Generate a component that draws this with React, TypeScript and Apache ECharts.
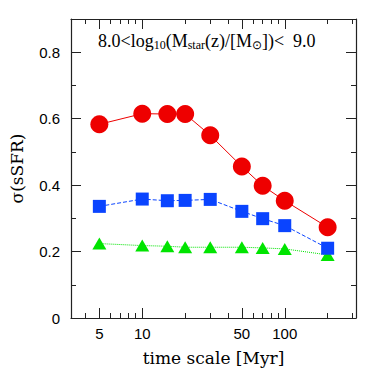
import React, { useEffect, useRef } from "react";
import * as echarts from "echarts";

const timeScale = [5, 10, 15, 20, 30, 50, 70, 100, 200];
const sigmaCircles = [0.583, 0.615, 0.614, 0.614, 0.55, 0.456, 0.398, 0.353, 0.273];
const sigmaSquares = [0.336, 0.358, 0.353, 0.354, 0.357, 0.321, 0.299, 0.278, 0.21];
const sigmaTriangles = [0.224, 0.218, 0.216, 0.213, 0.213, 0.213, 0.211, 0.208, 0.19];

const xMajorTicks = [5, 10, 50, 100];
const xMinorTicks = [4, 6, 7, 8, 9, 20, 30, 40, 60, 70, 80, 90, 200, 300];
const yMajorTicks = [0, 0.2, 0.4, 0.6, 0.8];
const yMinorTicks = [0.1, 0.3, 0.5, 0.7];

const X_MIN = 0.5; // log10 of lower bound
const X_MAX = 2.5; // log10 of upper bound
const Y_MIN = 0;
const Y_MAX = 0.9;

const lg = (v: number) => Math.log10(v);

export default function App() {
  const ref = useRef<HTMLDivElement>(null);
  useEffect(() => {
    if (!ref.current) return;
    const chart = echarts.init(ref.current, undefined, { renderer: "svg" });
    const axisColor = "#222";
    const numFont = "Liberation Sans";
    const wordFont = "DejaVu Serif";

    const mkX = (pos: "bottom" | "top", ticks: number[], len: number, labels: boolean, line: boolean) => ({
      type: "value",
      position: pos,
      min: X_MIN,
      max: X_MAX,
      axisLine: { show: line, onZero: false, lineStyle: { color: axisColor, width: 1.2 } },
      axisTick: { show: true, inside: true, length: len, customValues: ticks.map(lg), lineStyle: { color: axisColor, width: 1 } },
      axisLabel: labels
        ? {
            show: true,
            customValues: ticks.map(lg),
            formatter: (v: number) => String(Math.round(Math.pow(10, v))),
            color: "#000",
            fontFamily: numFont,
            fontSize: 15,
            margin: 8,
          }
        : { show: false },
      splitLine: { show: false },
      name: labels && pos === "bottom" ? "time scale [Myr]" : "",
      nameLocation: "middle",
      nameGap: 31,
      nameTextStyle: { fontFamily: wordFont, fontSize: 17, color: "#000" },
    });
    const mkY = (pos: "left" | "right", ticks: number[], len: number, labels: boolean, line: boolean) => ({
      type: "value",
      position: pos,
      min: Y_MIN,
      max: Y_MAX,
      axisLine: { show: line, onZero: false, lineStyle: { color: axisColor, width: 1.2 } },
      axisTick: { show: true, inside: true, length: len, customValues: ticks, lineStyle: { color: axisColor, width: 1 } },
      axisLabel: labels
        ? { show: true, customValues: ticks, color: "#000", fontFamily: numFont, fontSize: 15, margin: 11 }
        : { show: false },
      splitLine: { show: false },
      name: labels && pos === "left" ? "σ(sSFR)" : "",
      nameLocation: "middle",
      nameGap: 46,
      nameTextStyle: { fontFamily: wordFont, fontSize: 17, color: "#000" },
    });

    const mkSeries = (name: string, vals: number[], symbol: string, size: number | number[], color: string, lineType: string) => ({
      name,
      type: "line",
      xAxisIndex: 0,
      yAxisIndex: 0,
      data: timeScale.map((t, i) => [lg(t), vals[i]]),
      symbol,
      symbolSize: size,
      showSymbol: true,
      itemStyle: { color, borderWidth: 0, opacity: 1 },
      lineStyle: { color, width: 1, type: lineType },
      z: 3,
    });

    chart.setOption({
      animation: false,
      backgroundColor: "#fff",
      grid: { left: 57, top: 19, right: 18, bottom: 56, containLabel: false },
      xAxis: [
        mkX("bottom", xMajorTicks, 10, true, true),
        mkX("bottom", xMinorTicks, 5, false, false),
        mkX("top", xMajorTicks, 10, false, true),
        mkX("top", xMinorTicks, 5, false, false),
      ],
      yAxis: [
        mkY("left", yMajorTicks, 10, true, true),
        mkY("left", yMinorTicks, 5, false, false),
        mkY("right", yMajorTicks, 10, false, true),
        mkY("right", yMinorTicks, 5, false, false),
      ],
      series: [
        mkSeries("triangles", sigmaTriangles, "triangle", [14, 12], "#00e400", "dotted"),
        mkSeries("squares", sigmaSquares, "rect", 13, "#0a44ff", "dashed"),
        mkSeries("circles", sigmaCircles, "circle", 18, "#ee0000", "solid"),
      ],
      graphic: [
        {
          type: "text",
          left: 98,
          top: 32,
          style: {
            text: "{n|8.0<log}{s|10}{n|(M}{s|star}{n|(z)/[M}{s|⊙}{n|])<  9.0}",
            rich: {
              n: { fontFamily: "Liberation Serif", fontSize: 18, lineHeight: 20, verticalAlign: "middle", fill: "#000" },
              s: { fontFamily: "Liberation Serif", fontSize: 12, lineHeight: 20, verticalAlign: "bottom", fill: "#000" },
            },
          },
        },
      ],
    });
    return () => chart.dispose();
  }, []);
  return <div ref={ref} style={{ position: "fixed", left: 0, top: 0, width: 374, height: 374 }} />;
}
